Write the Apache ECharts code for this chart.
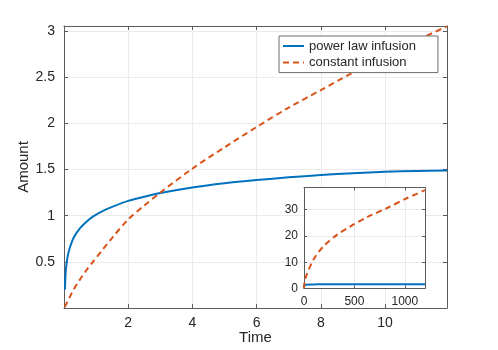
<!DOCTYPE html>
<html>
<head>
<meta charset="utf-8">
<script src="https://cdn.jsdelivr.net/npm/echarts@6/dist/echarts.min.js"></script>
<style>
  html, body { margin: 0; padding: 0; background: #fff; }
  #chart { width: 498px; height: 350px; }
</style>
</head>
<body>
<div id="chart"></div>
<script>
  // main axes: early times
  const mainTime = [0.03, 0.05, 0.08, 0.12, 0.18, 0.3, 0.5, 0.7, 0.9, 1.2, 1.5, 2, 2.5, 3, 4, 5, 6, 7, 8, 9, 10, 11, 11.93];
  const powerLaw = [0.2, 0.38, 0.48, 0.57, 0.65, 0.76, 0.865, 0.935, 0.99, 1.05, 1.095, 1.16, 1.205, 1.245, 1.305, 1.35, 1.385, 1.415, 1.44, 1.46, 1.475, 1.485, 1.49];
  const constant = [0.01, 0.03, 0.05, 0.08, 0.12, 0.2, 0.31, 0.41, 0.5, 0.63, 0.76, 0.96, 1.11, 1.25, 1.51, 1.74, 1.96, 2.17, 2.36, 2.55, 2.73, 2.9, 3.05];

  // inset: long times
  const insetTime = [0, 10, 93, 192, 326, 459, 625, 824, 1024, 1200];
  const insetPower = [0.2, 1.47, 1.55, 1.58, 1.6, 1.62, 1.63, 1.64, 1.65, 1.66];
  const insetConstant = [0, 3.4, 10.9, 16, 20.4, 23.6, 27.1, 30.6, 34.4, 37.4];

  const seriesNames = ["power law infusion", "constant infusion"];
  const colors = ["#0072BD", "#D95319"];
  const font = "Liberation Sans, Arial, Helvetica, sans-serif";
  const axisColor = "#5a5a5a";
  const textColor = "#262626";
  const gridColor = "#ebebeb";

  function pairs(xs, ys) {
    return xs.map(function (x, i) { return [x, ys[i]]; });
  }

  function plainNumber(value) {
    return String(value);
  }

  function boxAxis(opts, tickLen) {
    // extra axis used only to draw the box line and ticks on top/right
    return Object.assign({
      type: "value",
      axisLine: { show: true, onZero: false, lineStyle: { color: axisColor, width: 1 } },
      axisTick: { show: true, inside: true, length: tickLen, lineStyle: { color: axisColor } },
      axisLabel: { show: false },
      splitLine: { show: false }
    }, opts);
  }

  const chart = echarts.init(document.getElementById("chart"));

  chart.setOption({
    animation: false,
    textStyle: { fontFamily: font },
    grid: [
      { left: 64, top: 26, width: 383, height: 285 },
      { left: 304, top: 187.5, width: 121, height: 101, show: true, backgroundColor: "#fff", borderWidth: 0, z: 5 }
    ],
    legend: {
      orient: "vertical",
      left: 279,
      top: 36,
      padding: [3, 22, 3, 3],
      itemGap: 2.6,
      itemWidth: 21,
      itemHeight: 14,
      backgroundColor: "#fff",
      borderColor: "#6e6e6e",
      borderWidth: 1,
      borderRadius: 0,
      itemStyle: { opacity: 0 },
      textStyle: { fontFamily: font, fontSize: 13, color: textColor, lineHeight: 14 },
      data: seriesNames
    },
    xAxis: [
      {
        type: "value", gridIndex: 0, min: 0, max: 11.93, interval: 2,
        name: "Time", nameLocation: "middle", nameGap: 22, nameMoveOverlap: false,
        nameTextStyle: { fontFamily: font, fontSize: 15, color: textColor },
        axisLine: { show: true, onZero: false, lineStyle: { color: axisColor } },
        axisTick: { show: true, inside: true, length: 4, lineStyle: { color: axisColor } },
        axisLabel: { fontFamily: font, fontSize: 14, color: textColor, margin: 8, showMinLabel: false, showMaxLabel: false },
        splitLine: { show: true, lineStyle: { color: gridColor } }
      },
      boxAxis({ gridIndex: 0, position: "top", min: 0, max: 11.93, interval: 2 }, 4),
      {
        type: "value", gridIndex: 1, min: 0, max: 1200, interval: 500, z: 6,
        axisLine: { show: true, onZero: false, lineStyle: { color: axisColor } },
        axisTick: { show: true, inside: true, length: 3, lineStyle: { color: axisColor } },
        axisLabel: { fontFamily: font, fontSize: 12, color: textColor, margin: 7, showMaxLabel: false, formatter: plainNumber },
        splitLine: { show: true, lineStyle: { color: gridColor } }
      },
      boxAxis({ gridIndex: 1, position: "top", min: 0, max: 1200, interval: 500, z: 6 }, 3)
    ],
    yAxis: [
      {
        type: "value", gridIndex: 0, min: 0, max: 3.054, interval: 0.5,
        name: "Amount", nameLocation: "middle", nameGap: 33, nameMoveOverlap: false,
        nameTextStyle: { fontFamily: font, fontSize: 15, color: textColor },
        axisLine: { show: true, onZero: false, lineStyle: { color: axisColor } },
        axisTick: { show: true, inside: true, length: 4, lineStyle: { color: axisColor } },
        axisLabel: { fontFamily: font, fontSize: 14, color: textColor, margin: 9, showMinLabel: false, showMaxLabel: false },
        splitLine: { show: true, lineStyle: { color: gridColor } }
      },
      boxAxis({ gridIndex: 0, position: "right", min: 0, max: 3.054, interval: 0.5 }, 4),
      {
        type: "value", gridIndex: 1, min: 0, max: 38.4, interval: 10, z: 6,
        axisLine: { show: true, onZero: false, lineStyle: { color: axisColor } },
        axisTick: { show: true, inside: true, length: 3, lineStyle: { color: axisColor } },
        axisLabel: { fontFamily: font, fontSize: 12, color: textColor, margin: 6, showMaxLabel: false },
        splitLine: { show: true, lineStyle: { color: gridColor } }
      },
      boxAxis({ gridIndex: 1, position: "right", min: 0, max: 38.4, interval: 10, z: 6 }, 3)
    ],
    series: [
      {
        name: seriesNames[0], type: "line", xAxisIndex: 0, yAxisIndex: 0,
        data: pairs(mainTime, powerLaw), smooth: 0.3, symbol: "none",
        color: colors[0], lineStyle: { color: colors[0], width: 2 }
      },
      {
        name: seriesNames[1], type: "line", xAxisIndex: 0, yAxisIndex: 0,
        data: pairs(mainTime, constant), smooth: 0.3, symbol: "none",
        color: colors[1], lineStyle: { color: colors[1], width: 2, type: [6, 4] }
      },
      {
        name: seriesNames[0], type: "line", xAxisIndex: 2, yAxisIndex: 2, z: 7,
        data: pairs(insetTime, insetPower), smooth: 0.3, symbol: "none",
        color: colors[0], lineStyle: { color: colors[0], width: 2 }
      },
      {
        name: seriesNames[1], type: "line", xAxisIndex: 2, yAxisIndex: 2, z: 7,
        data: pairs(insetTime, insetConstant), smooth: 0.3, symbol: "none",
        color: colors[1], lineStyle: { color: colors[1], width: 2, type: [6, 4] }
      }
    ]
  });
</script>
</body>
</html>
